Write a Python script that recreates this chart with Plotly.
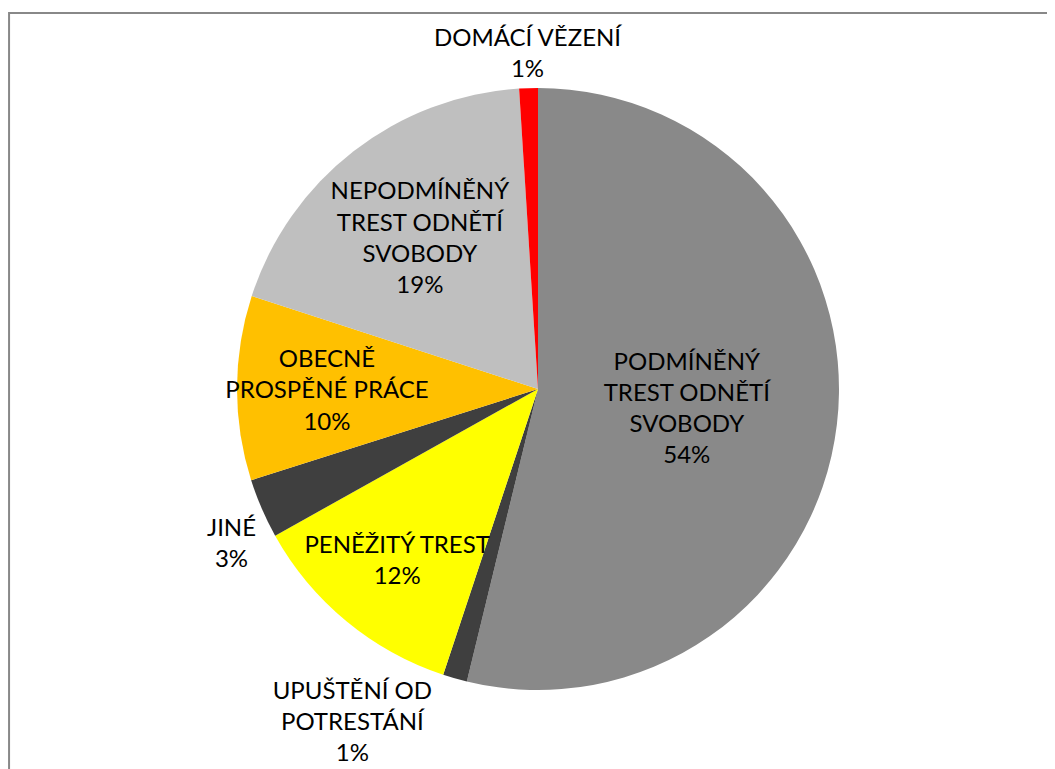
import math
import plotly.graph_objects as go

labels = [
    "PODMÍNĚNÝ<br>TREST ODNĚTÍ<br>SVOBODY",
    "UPUŠTĚNÍ OD<br>POTRESTÁNÍ",
    "PENĚŽITÝ TREST",
    "JINÉ",
    "OBECNĚ<br>PROSPĚNÉ PRÁCE",
    "NEPODMÍNĚNÝ<br>TREST ODNĚTÍ<br>SVOBODY",
    "DOMÁCÍ VĚZENÍ",
]
values = [53.8, 1.3, 11.8, 3.2, 9.9, 19.0, 1.0]
colors = ["#898989", "#3f3f3f", "#ffff00", "#3f3f3f", "#ffc000", "#bfbfbf", "#ff0000"]
# "inside"/"outside" handled by plotly, "annot" = placed as annotation at the slice bisector
text_modes = ["inside", "outside", "inside", "annot", "inside", "inside", "annot"]

W, H = 1055, 769
cx, cy, r = 530, 381, 301          # pie centre / radius in figure pixels
FONT = dict(family="Lato, sans-serif", size=24, color="#000000")

total = sum(values)
pcts = [v / total for v in values]

fig = go.Figure(go.Pie(
    labels=labels,
    values=values,
    sort=False,
    direction="clockwise",
    rotation=0,
    marker=dict(colors=colors, line=dict(width=0)),
    texttemplate=["%{label}<br>%{percent:.0%}" if m != "annot" else "" for m in text_modes],
    textposition=["outside" if m == "outside" else "inside" for m in text_modes],
    insidetextorientation="horizontal",
    textfont=FONT,
    showlegend=False,
    hoverinfo="label+percent",
    domain=dict(x=[(cx - r) / W, (cx + r) / W], y=[(H - cy - r) / H, (H - cy + r) / H]),
))

annotations = []
cum = 0.0
for lab, p, m in zip(labels, pcts, text_modes):
    mid = cum + p / 2
    cum += p
    if m != "annot":
        continue
    th = 2 * math.pi * mid
    d = r + 4
    px = cx + d * math.sin(th)
    py = cy - d * math.cos(th)
    s, c = math.sin(th), math.cos(th)
    xanchor = "center" if abs(s) < 0.3 else ("left" if s > 0 else "right")
    yanchor = "middle" if abs(c) < 0.3 else ("bottom" if c > 0 else "top")
    annotations.append(dict(
        x=px / W, y=1 - py / H, xref="paper", yref="paper",
        text=f"{lab}<br>{round(p * 100)}%", showarrow=False,
        xanchor=xanchor, yanchor=yanchor, font=FONT, align="center",
    ))

fig.update_layout(
    width=W, height=H,
    margin=dict(l=0, r=0, t=0, b=0),
    paper_bgcolor="white",
    plot_bgcolor="white",
    uniformtext=dict(minsize=24, mode="show"),
    annotations=annotations,
    shapes=[dict(type="rect", xref="paper", yref="paper",
                 x0=0.001, x1=1.05, y0=-0.05, y1=1 - 5 / H,
                 line=dict(color="#888888", width=2))],
)

fig.write_html("out.html")
